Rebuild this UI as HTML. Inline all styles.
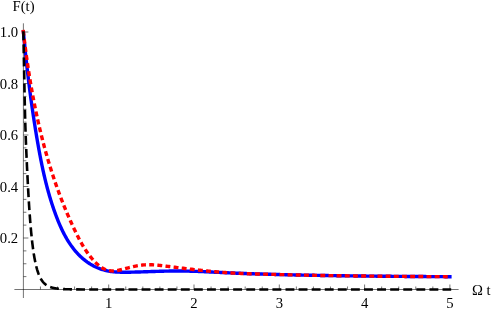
<!DOCTYPE html>
<html><head><meta charset="utf-8"><title>plot</title>
<style>
html,body{margin:0;padding:0;background:#fff;}
body{width:491px;height:311px;overflow:hidden;}
svg{display:block;will-change:transform;}
text{font-family:"Liberation Serif",serif;font-size:14.7px;fill:#000;}
</style></head><body>
<svg width="491" height="311" viewBox="0 0 491 311">
<rect width="491" height="311" fill="#fff"/>
<g stroke="#000" stroke-width="0.55" fill="none">
<path d="M14.4,289.5 H458.6 M23.4,23.3 V298"/>
<path d="M40.46,289.5 V286.5 M57.52,289.5 V286.5 M74.58,289.5 V286.5 M91.64,289.5 V286.5 M108.70,289.5 V284.5 M125.76,289.5 V286.5 M142.82,289.5 V286.5 M159.88,289.5 V286.5 M176.94,289.5 V286.5 M194.00,289.5 V284.5 M211.06,289.5 V286.5 M228.12,289.5 V286.5 M245.18,289.5 V286.5 M262.24,289.5 V286.5 M279.30,289.5 V284.5 M296.36,289.5 V286.5 M313.42,289.5 V286.5 M330.48,289.5 V286.5 M347.54,289.5 V286.5 M364.60,289.5 V284.5 M381.66,289.5 V286.5 M398.72,289.5 V286.5 M415.78,289.5 V286.5 M432.84,289.5 V286.5 M449.90,289.5 V284.5 M23.4,276.62 H26.4 M23.4,263.75 H26.4 M23.4,250.88 H26.4 M23.4,238.00 H28.4 M23.4,225.12 H26.4 M23.4,212.25 H26.4 M23.4,199.38 H26.4 M23.4,186.50 H28.4 M23.4,173.62 H26.4 M23.4,160.75 H26.4 M23.4,147.88 H26.4 M23.4,135.00 H28.4 M23.4,122.12 H26.4 M23.4,109.25 H26.4 M23.4,96.38 H26.4 M23.4,83.50 H28.4 M23.4,70.62 H26.4 M23.4,57.75 H26.4 M23.4,44.88 H26.4 M23.4,32.00 H28.4"/>
</g>
<path id="blue" d="M23.40,32.00 L23.51,33.21 L23.62,34.42 L23.74,35.63 L23.85,36.84 L23.96,38.05 L24.08,39.26 L24.20,40.47 L24.31,41.68 L24.43,42.89 L24.55,44.10 L24.67,45.31 L24.79,46.52 L24.91,47.73 L25.03,48.95 L25.16,50.16 L25.28,51.37 L25.41,52.58 L25.53,53.80 L25.66,55.01 L25.79,56.22 L25.92,57.43 L26.05,58.65 L26.18,59.86 L26.31,61.08 L26.44,62.29 L26.58,63.50 L26.71,64.72 L26.85,65.93 L26.98,67.15 L27.12,68.36 L27.26,69.57 L27.40,70.79 L27.54,72.00 L27.68,73.22 L27.83,74.43 L27.97,75.65 L28.11,76.86 L28.26,78.07 L28.41,79.29 L28.55,80.50 L28.70,81.72 L28.85,82.93 L29.00,84.14 L29.16,85.36 L29.31,86.57 L29.46,87.79 L29.62,89.00 L29.78,90.21 L29.93,91.43 L30.09,92.64 L30.25,93.85 L30.41,95.07 L30.57,96.28 L30.74,97.49 L30.90,98.70 L31.07,99.92 L31.23,101.13 L31.40,102.34 L31.57,103.55 L31.74,104.76 L31.91,105.98 L32.08,107.19 L32.25,108.40 L32.43,109.61 L32.60,110.82 L32.78,112.03 L32.96,113.24 L33.14,114.45 L33.32,115.66 L33.50,116.86 L33.68,118.07 L33.87,119.28 L34.05,120.49 L34.24,121.69 L34.43,122.90 L34.61,124.11 L34.80,125.31 L35.00,126.52 L35.19,127.72 L35.38,128.93 L35.58,130.13 L35.77,131.34 L35.97,132.54 L36.17,133.74 L36.37,134.95 L36.57,136.15 L36.77,137.35 L36.98,138.55 L37.18,139.75 L37.39,140.95 L37.60,142.15 L37.81,143.35 L38.02,144.55 L38.23,145.75 L38.44,146.94 L38.66,148.14 L38.88,149.34 L39.09,150.53 L39.31,151.73 L39.54,152.92 L39.76,154.11 L39.98,155.31 L40.21,156.50 L40.44,157.69 L40.67,158.88 L40.91,160.07 L41.14,161.26 L41.38,162.45 L41.62,163.64 L41.87,164.83 L42.11,166.02 L42.36,167.21 L42.62,168.39 L42.87,169.58 L43.13,170.76 L43.39,171.95 L43.66,173.13 L43.92,174.31 L44.19,175.50 L44.47,176.68 L44.75,177.86 L45.03,179.04 L45.31,180.22 L45.60,181.40 L45.89,182.57 L46.19,183.75 L46.49,184.93 L46.79,186.10 L47.10,187.28 L47.41,188.45 L47.73,189.63 L48.05,190.80 L48.37,191.97 L48.70,193.14 L49.04,194.32 L49.37,195.49 L49.72,196.65 L50.07,197.82 L50.42,198.99 L50.78,200.16 L51.14,201.32 L51.51,202.49 L51.88,203.65 L52.26,204.82 L52.64,205.98 L53.03,207.14 L53.42,208.31 L53.82,209.47 L54.23,210.63 L54.64,211.78 L55.06,212.94 L55.48,214.10 L55.91,215.26 L56.34,216.41 L56.79,217.57 L57.23,218.72 L57.69,219.87 L58.15,221.02 L58.62,222.16 L59.10,223.30 L59.58,224.44 L60.07,225.57 L60.58,226.70 L61.09,227.82 L61.60,228.94 L62.13,230.06 L62.67,231.16 L63.22,232.27 L63.77,233.36 L64.34,234.45 L64.92,235.53 L65.51,236.60 L66.11,237.67 L66.72,238.73 L67.34,239.77 L67.97,240.81 L68.62,241.84 L69.28,242.86 L69.95,243.87 L70.63,244.87 L71.32,245.86 L72.03,246.84 L72.75,247.80 L73.49,248.76 L74.24,249.70 L75.00,250.63 L75.78,251.54 L76.57,252.44 L77.38,253.33 L78.20,254.21 L79.04,255.07 L79.90,255.91 L80.77,256.74 L81.65,257.56 L82.55,258.36 L83.47,259.14 L84.41,259.90 L85.36,260.65 L86.33,261.38 L87.32,262.10 L88.32,262.79 L89.34,263.46 L90.38,264.12 L91.43,264.75 L92.49,265.35 L93.57,265.94 L94.66,266.50 L95.76,267.03 L96.88,267.53 L98.00,268.01 L99.14,268.45 L100.28,268.87 L101.44,269.27 L102.60,269.63 L103.77,269.97 L104.94,270.28 L106.13,270.56 L107.32,270.82 L108.51,271.06 L109.71,271.26 L110.91,271.45 L112.12,271.61 L113.32,271.75 L114.54,271.87 L115.75,271.97 L116.97,272.06 L118.19,272.12 L119.41,272.17 L120.63,272.21 L121.85,272.24 L123.08,272.25 L124.31,272.26 L125.53,272.26 L126.76,272.25 L127.99,272.23 L129.21,272.21 L130.44,272.19 L131.66,272.16 L132.89,272.13 L134.11,272.10 L135.34,272.07 L136.56,272.04 L137.79,272.00 L139.01,271.97 L140.23,271.93 L141.45,271.89 L142.67,271.85 L143.89,271.81 L145.11,271.77 L146.33,271.73 L147.55,271.69 L148.77,271.65 L149.99,271.61 L151.21,271.57 L152.43,271.53 L153.65,271.49 L154.86,271.45 L156.08,271.41 L157.30,271.37 L158.52,271.33 L159.73,271.30 L160.95,271.26 L162.17,271.23 L163.38,271.20 L164.60,271.17 L165.82,271.14 L167.03,271.11 L168.25,271.09 L169.46,271.07 L170.68,271.05 L171.90,271.04 L173.11,271.02 L174.33,271.01 L175.54,271.01 L176.76,271.00 L177.98,271.00 L179.19,271.00 L180.41,271.01 L181.63,271.02 L182.84,271.03 L184.06,271.05 L185.28,271.07 L186.50,271.10 L187.71,271.12 L188.93,271.15 L190.15,271.18 L191.37,271.22 L192.58,271.25 L193.80,271.29 L195.02,271.33 L196.24,271.37 L197.46,271.42 L198.67,271.47 L199.89,271.51 L201.11,271.56 L202.33,271.61 L203.55,271.67 L204.77,271.72 L205.99,271.78 L207.20,271.83 L208.42,271.89 L209.64,271.95 L210.86,272.00 L212.08,272.06 L213.30,272.12 L214.52,272.18 L215.74,272.24 L216.96,272.30 L218.18,272.36 L219.39,272.41 L220.61,272.47 L221.83,272.53 L223.05,272.59 L224.27,272.64 L225.49,272.70 L226.71,272.76 L227.93,272.81 L229.15,272.86 L230.37,272.92 L231.59,272.97 L232.80,273.02 L234.02,273.07 L235.24,273.13 L236.46,273.18 L237.68,273.23 L238.90,273.27 L240.12,273.32 L241.34,273.37 L242.56,273.42 L243.78,273.47 L245.00,273.51 L246.22,273.56 L247.44,273.60 L248.65,273.64 L249.87,273.69 L251.09,273.73 L252.31,273.77 L253.53,273.81 L254.75,273.85 L255.97,273.89 L257.19,273.93 L258.41,273.96 L259.63,274.00 L260.85,274.04 L262.07,274.07 L263.29,274.11 L264.51,274.14 L265.73,274.17 L266.94,274.21 L268.16,274.25 L269.38,274.28 L270.60,274.32 L271.82,274.35 L273.04,274.38 L274.26,274.42 L275.48,274.45 L276.70,274.48 L277.92,274.52 L279.14,274.55 L280.36,274.58 L281.58,274.61 L282.80,274.64 L284.02,274.67 L285.24,274.70 L286.46,274.73 L287.68,274.76 L288.89,274.79 L290.11,274.82 L291.33,274.85 L292.55,274.87 L293.77,274.90 L294.99,274.93 L296.21,274.96 L297.43,274.98 L298.65,275.01 L299.87,275.04 L301.09,275.06 L302.31,275.09 L303.53,275.11 L304.75,275.14 L305.97,275.16 L307.19,275.19 L308.41,275.21 L309.63,275.23 L310.85,275.26 L312.07,275.28 L313.29,275.30 L314.51,275.32 L315.72,275.35 L316.94,275.37 L318.16,275.39 L319.38,275.41 L320.60,275.43 L321.82,275.45 L323.04,275.48 L324.26,275.50 L325.48,275.52 L326.70,275.54 L327.92,275.56 L329.14,275.58 L330.36,275.59 L331.58,275.61 L332.80,275.63 L334.02,275.65 L335.24,275.67 L336.46,275.69 L337.68,275.71 L338.90,275.72 L340.12,275.74 L341.34,275.76 L342.56,275.78 L343.78,275.79 L345.00,275.81 L346.22,275.83 L347.44,275.84 L348.66,275.86 L349.88,275.87 L351.10,275.89 L352.32,275.91 L353.53,275.92 L354.75,275.94 L355.97,275.95 L357.19,275.97 L358.41,275.98 L359.63,276.00 L360.85,276.01 L362.07,276.02 L363.29,276.04 L364.51,276.05 L365.73,276.07 L366.95,276.08 L368.17,276.09 L369.39,276.11 L370.61,276.12 L371.83,276.13 L373.05,276.14 L374.27,276.16 L375.49,276.17 L376.71,276.18 L377.93,276.19 L379.15,276.20 L380.37,276.22 L381.59,276.23 L382.81,276.24 L384.03,276.25 L385.25,276.26 L386.47,276.27 L387.69,276.28 L388.91,276.30 L390.13,276.31 L391.35,276.32 L392.57,276.33 L393.79,276.34 L395.01,276.35 L396.23,276.36 L397.45,276.37 L398.67,276.38 L399.89,276.39 L401.11,276.40 L402.33,276.41 L403.55,276.42 L404.77,276.43 L405.99,276.44 L407.21,276.44 L408.43,276.45 L409.65,276.46 L410.87,276.47 L412.08,276.48 L413.30,276.49 L414.52,276.50 L415.74,276.50 L416.96,276.51 L418.18,276.52 L419.40,276.53 L420.62,276.54 L421.84,276.55 L423.06,276.55 L424.28,276.56 L425.50,276.57 L426.72,276.58 L427.94,276.58 L429.16,276.59 L430.38,276.60 L431.60,276.61 L432.82,276.61 L434.04,276.62 L435.26,276.63 L436.48,276.63 L437.70,276.64 L438.92,276.65 L440.14,276.65 L441.36,276.66 L442.58,276.67 L443.80,276.67 L445.02,276.68 L446.24,276.68 L447.46,276.69 L448.68,276.70 L449.90,276.70" fill="none" stroke="#0000ff" stroke-width="3.4" stroke-linecap="square" stroke-linejoin="round"/>
<path id="red" d="M23.21,30.31 L23.40,32.00 L23.54,33.20 L23.68,34.40 L23.82,35.59 L23.96,36.79 L24.10,37.99 L24.25,39.19 L24.39,40.38 L24.54,41.58 L24.69,42.78 L24.84,43.98 L24.99,45.17 L25.14,46.37 L25.30,47.57 L25.45,48.77 L25.61,49.96 L25.77,51.16 L25.93,52.36 L26.09,53.55 L26.25,54.75 L26.41,55.95 L26.58,57.14 L26.75,58.34 L26.92,59.54 L27.09,60.73 L27.26,61.93 L27.43,63.12 L27.60,64.32 L27.78,65.52 L27.96,66.71 L28.14,67.91 L28.32,69.10 L28.50,70.29 L28.69,71.49 L28.87,72.68 L29.06,73.88 L29.25,75.07 L29.44,76.26 L29.63,77.46 L29.83,78.65 L30.02,79.84 L30.22,81.03 L30.42,82.23 L30.62,83.42 L30.83,84.61 L31.03,85.80 L31.24,86.99 L31.44,88.18 L31.66,89.37 L31.87,90.56 L32.08,91.75 L32.30,92.94 L32.51,94.13 L32.73,95.32 L32.95,96.50 L33.18,97.69 L33.40,98.88 L33.63,100.07 L33.86,101.25 L34.09,102.44 L34.32,103.62 L34.56,104.81 L34.79,105.99 L35.03,107.18 L35.27,108.36 L35.52,109.54 L35.76,110.73 L36.01,111.91 L36.26,113.09 L36.51,114.27 L36.76,115.45 L37.02,116.63 L37.27,117.81 L37.53,118.99 L37.79,120.17 L38.06,121.35 L38.32,122.53 L38.59,123.70 L38.86,124.88 L39.13,126.06 L39.41,127.23 L39.68,128.41 L39.96,129.58 L40.24,130.76 L40.53,131.93 L40.81,133.10 L41.10,134.27 L41.39,135.44 L41.68,136.61 L41.98,137.78 L42.27,138.95 L42.57,140.12 L42.87,141.29 L43.18,142.46 L43.48,143.62 L43.79,144.79 L44.10,145.96 L44.42,147.12 L44.73,148.28 L45.05,149.45 L45.37,150.61 L45.69,151.77 L46.02,152.93 L46.35,154.09 L46.68,155.25 L47.01,156.41 L47.35,157.57 L47.68,158.73 L48.02,159.88 L48.37,161.04 L48.71,162.19 L49.06,163.35 L49.41,164.50 L49.76,165.65 L50.12,166.80 L50.48,167.95 L50.84,169.10 L51.20,170.25 L51.57,171.40 L51.94,172.55 L52.31,173.70 L52.68,174.84 L53.06,175.99 L53.44,177.13 L53.82,178.27 L54.21,179.41 L54.59,180.56 L54.98,181.70 L55.38,182.83 L55.77,183.97 L56.17,185.11 L56.57,186.25 L56.98,187.38 L57.39,188.52 L57.80,189.65 L58.21,190.78 L58.62,191.91 L59.04,193.05 L59.46,194.17 L59.89,195.30 L60.32,196.43 L60.75,197.56 L61.18,198.68 L61.61,199.81 L62.05,200.93 L62.50,202.05 L62.94,203.17 L63.39,204.29 L63.84,205.41 L64.29,206.53 L64.75,207.65 L65.21,208.76 L65.67,209.88 L66.14,210.99 L66.61,212.11 L67.08,213.22 L67.55,214.33 L68.03,215.44 L68.51,216.54 L69.00,217.65 L69.49,218.76 L69.98,219.86 L70.47,220.96 L70.97,222.07 L71.47,223.17 L71.97,224.27 L72.48,225.37 L72.99,226.46 L73.50,227.56 L74.02,228.65 L74.54,229.75 L75.06,230.84 L75.59,231.93 L76.12,233.02 L76.65,234.11 L77.19,235.19 L77.74,236.27 L78.29,237.35 L78.85,238.43 L79.42,239.50 L79.99,240.56 L80.57,241.63 L81.16,242.69 L81.76,243.74 L82.36,244.79 L82.98,245.83 L83.61,246.87 L84.25,247.90 L84.89,248.92 L85.55,249.94 L86.23,250.95 L86.91,251.95 L87.61,252.95 L88.32,253.94 L89.05,254.91 L89.79,255.89 L90.54,256.85 L91.31,257.80 L92.10,258.74 L92.90,259.67 L93.72,260.59 L94.55,261.48 L95.40,262.36 L96.27,263.21 L97.16,264.03 L98.06,264.82 L98.98,265.58 L99.91,266.30 L100.87,266.98 L101.84,267.61 L102.83,268.20 L103.84,268.74 L104.87,269.23 L105.92,269.67 L106.98,270.04 L108.06,270.35 L109.17,270.60 L110.29,270.78 L111.43,270.89 L112.59,270.93 L113.77,270.90 L114.97,270.82 L116.17,270.68 L117.39,270.50 L118.61,270.28 L119.84,270.02 L121.07,269.74 L122.31,269.43 L123.55,269.11 L124.78,268.78 L126.01,268.45 L127.23,268.11 L128.45,267.79 L129.66,267.47 L130.86,267.17 L132.05,266.88 L133.24,266.60 L134.42,266.34 L135.60,266.09 L136.78,265.86 L137.95,265.65 L139.12,265.46 L140.30,265.29 L141.47,265.14 L142.65,265.01 L143.82,264.91 L145.01,264.83 L146.19,264.78 L147.38,264.74 L148.56,264.73 L149.76,264.74 L150.95,264.76 L152.14,264.81 L153.34,264.87 L154.54,264.94 L155.74,265.03 L156.94,265.13 L158.15,265.24 L159.35,265.36 L160.55,265.49 L161.76,265.62 L162.97,265.76 L164.17,265.91 L165.38,266.06 L166.58,266.21 L167.79,266.36 L168.99,266.51 L170.20,266.67 L171.40,266.82 L172.61,266.97 L173.81,267.12 L175.01,267.27 L176.22,267.42 L177.42,267.57 L178.62,267.72 L179.82,267.87 L181.02,268.02 L182.22,268.17 L183.43,268.31 L184.63,268.46 L185.83,268.60 L187.03,268.75 L188.23,268.89 L189.43,269.03 L190.63,269.17 L191.83,269.31 L193.03,269.45 L194.23,269.59 L195.43,269.72 L196.62,269.86 L197.82,269.99 L199.02,270.12 L200.22,270.25 L201.42,270.38 L202.62,270.51 L203.82,270.63 L205.02,270.76 L206.22,270.88 L207.42,271.00 L208.62,271.12 L209.82,271.23 L211.02,271.35 L212.21,271.46 L213.41,271.57 L214.61,271.68 L215.81,271.78 L217.01,271.89 L218.21,271.99 L219.42,272.09 L220.62,272.18 L221.82,272.28 L223.02,272.37 L224.22,272.46 L225.42,272.55 L226.62,272.63 L227.83,272.71 L229.03,272.79 L230.23,272.87 L231.44,272.94 L232.64,273.02 L233.84,273.09 L235.05,273.15 L236.25,273.22 L237.46,273.28 L238.66,273.34 L239.87,273.40 L241.07,273.46 L242.28,273.52 L243.48,273.57 L244.69,273.62 L245.90,273.67 L247.10,273.71 L248.31,273.74 L249.51,273.78 L250.72,273.81 L251.93,273.84 L253.13,273.88 L254.34,273.91 L255.55,273.93 L256.76,273.96 L257.96,273.99 L259.17,274.02 L260.38,274.05 L261.59,274.07 L262.79,274.10 L264.00,274.13 L265.21,274.16 L266.42,274.20 L267.63,274.23 L268.83,274.27 L270.04,274.30 L271.25,274.33 L272.46,274.37 L273.67,274.40 L274.87,274.43 L276.08,274.47 L277.29,274.50 L278.50,274.53 L279.71,274.56 L280.92,274.59 L282.12,274.62 L283.33,274.65 L284.54,274.68 L285.75,274.71 L286.96,274.74 L288.16,274.77 L289.37,274.80 L290.58,274.83 L291.79,274.86 L292.99,274.88 L294.20,274.91 L295.41,274.94 L296.62,274.97 L297.82,274.99 L299.03,275.02 L300.24,275.04 L301.44,275.07 L302.65,275.09 L303.86,275.12 L305.06,275.14 L306.27,275.17 L307.48,275.19 L308.68,275.21 L309.89,275.24 L311.10,275.26 L312.30,275.28 L313.51,275.31 L314.72,275.33 L315.92,275.35 L317.13,275.37 L318.34,275.39 L319.54,275.42 L320.75,275.44 L321.96,275.46 L323.16,275.48 L324.37,275.50 L325.58,275.52 L326.78,275.54 L327.99,275.56 L329.19,275.58 L330.40,275.60 L331.61,275.61 L332.81,275.63 L334.02,275.65 L335.23,275.67 L336.43,275.69 L337.64,275.71 L338.85,275.72 L340.05,275.74 L341.26,275.76 L342.46,275.77 L343.67,275.79 L344.88,275.81 L346.08,275.82 L347.29,275.84 L348.50,275.86 L349.70,275.87 L350.91,275.89 L352.12,275.90 L353.32,275.92 L354.53,275.93 L355.74,275.95 L356.95,275.96 L358.15,275.98 L359.36,275.99 L360.57,276.01 L361.77,276.02 L362.98,276.03 L364.19,276.05 L365.39,276.06 L366.60,276.07 L367.81,276.09 L369.02,276.10 L370.22,276.11 L371.43,276.13 L372.64,276.14 L373.85,276.15 L375.05,276.16 L376.26,276.18 L377.47,276.19 L378.67,276.20 L379.88,276.21 L381.09,276.22 L382.30,276.24 L383.50,276.25 L384.71,276.26 L385.92,276.27 L387.13,276.28 L388.33,276.29 L389.54,276.30 L390.75,276.31 L391.96,276.32 L393.16,276.33 L394.37,276.34 L395.58,276.35 L396.79,276.36 L397.99,276.37 L399.20,276.38 L400.41,276.39 L401.62,276.40 L402.82,276.41 L404.03,276.42 L405.24,276.43 L406.45,276.44 L407.65,276.45 L408.86,276.46 L410.07,276.47 L411.28,276.47 L412.48,276.48 L413.69,276.49 L414.90,276.50 L416.10,276.51 L417.31,276.52 L418.52,276.52 L419.73,276.53 L420.93,276.54 L422.14,276.55 L423.35,276.55 L424.56,276.56 L425.76,276.57 L426.97,276.58 L428.18,276.58 L429.38,276.59 L430.59,276.60 L431.80,276.61 L433.01,276.61 L434.21,276.62 L435.42,276.63 L436.63,276.63 L437.83,276.64 L439.04,276.65 L440.25,276.65 L441.45,276.66 L442.66,276.67 L443.87,276.67 L445.07,276.68 L446.28,276.68 L447.49,276.69 L448.69,276.70 L449.90,276.70 L450.70,276.70" fill="none" stroke="#ff0000" stroke-width="3.4" stroke-dasharray="4.9 3.27" stroke-dashoffset="-0.5" stroke-linejoin="round"/>
<path d="M23.1,29.9 L23.3,31.4" fill="none" stroke="#ff0000" stroke-width="3.4"/>
<path id="black" d="M23.37,30.70 L23.40,32.00 L23.52,38.64 L23.64,45.11 L23.76,51.39 L23.88,57.50 L24.00,63.44 L24.11,69.23 L24.21,74.85 L24.31,80.32 L24.41,85.64 L24.51,90.82 L24.61,95.86 L24.71,100.76 L24.82,105.53 L24.93,110.17 L25.04,114.68 L25.16,119.07 L25.28,123.35 L25.41,127.51 L25.54,131.56 L25.68,135.50 L25.82,139.34 L25.97,143.08 L26.11,146.71 L26.26,150.25 L26.41,153.70 L26.55,157.05 L26.70,160.32 L26.85,163.50 L26.99,166.60 L27.14,169.61 L27.28,172.55 L27.42,175.41 L27.56,178.19 L27.70,180.91 L27.83,183.55 L27.97,186.12 L28.11,188.63 L28.24,191.07 L28.37,193.45 L28.51,195.77 L28.64,198.02 L28.77,200.22 L28.90,202.37 L29.03,204.46 L29.16,206.49 L29.29,208.47 L29.42,210.41 L29.55,212.29 L29.68,214.13 L29.81,215.91 L29.94,217.66 L30.07,219.36 L30.20,221.01 L30.32,222.63 L30.45,224.20 L30.58,225.74 L30.71,227.23 L30.84,228.69 L30.97,230.12 L31.10,231.50 L31.22,232.85 L31.35,234.17 L31.48,235.46 L31.61,236.71 L31.74,237.94 L31.87,239.13 L31.99,240.29 L32.12,241.43 L32.25,242.53 L32.38,243.61 L32.51,244.66 L32.64,245.69 L32.76,246.69 L32.89,247.67 L33.02,248.62 L33.15,249.56 L33.28,250.46 L33.40,251.35 L33.53,252.21 L33.66,253.06 L33.79,253.88 L33.92,254.68 L34.05,255.47 L34.17,256.23 L34.30,256.98 L34.43,257.71 L34.56,258.42 L34.69,259.11 L34.82,259.79 L34.94,260.45 L35.07,261.10 L35.20,261.73 L35.33,262.35 L35.46,262.95 L35.59,263.53 L35.71,264.11 L35.84,264.67 L35.97,265.21 L36.10,265.75 L36.23,266.27 L36.36,266.78 L36.48,267.27 L36.61,267.76 L36.74,268.23 L36.87,268.70 L37.00,269.15 L37.12,269.59 L37.25,270.02 L37.38,270.44 L37.51,270.86 L37.64,271.26 L37.77,271.65 L37.89,272.04 L38.02,272.41 L38.15,272.78 L38.28,273.14 L38.41,273.49 L38.54,273.83 L38.66,274.16 L38.79,274.49 L38.92,274.81 L39.05,275.12 L39.18,275.42 L39.31,275.72 L39.43,276.01 L39.56,276.30 L39.69,276.58 L39.82,276.85 L39.95,277.11 L40.08,277.37 L40.20,277.63 L40.33,277.88 L40.46,278.12 L40.59,278.36 L40.72,278.59 L40.84,278.82 L40.97,279.04 L41.10,279.26 L41.23,279.47 L41.36,279.67 L41.49,279.88 L41.61,280.08 L41.74,280.27 L41.87,280.46 L42.00,280.65 L42.13,280.83 L42.26,281.01 L42.38,281.18 L42.51,281.35 L42.64,281.52 L42.77,281.68 L42.90,281.84 L43.03,281.99 L43.15,282.14 L43.28,282.29 L43.41,282.44 L43.54,282.58 L43.67,282.72 L43.80,282.86 L43.92,282.99 L44.05,283.12 L44.18,283.25 L44.31,283.38 L44.44,283.50 L44.56,283.62 L44.69,283.74 L44.82,283.85 L44.95,283.96 L45.08,284.07 L45.21,284.18 L45.33,284.29 L45.46,284.39 L45.59,284.49 L45.72,284.59 L45.85,284.69 L45.98,284.78 L46.10,284.87 L46.23,284.96 L46.36,285.05 L46.49,285.14 L46.62,285.22 L46.75,285.31 L46.87,285.39 L47.00,285.47 L47.13,285.55 L47.26,285.62 L47.39,285.70 L47.51,285.77 L47.64,285.85 L47.77,285.92 L47.90,285.99 L48.03,286.05 L48.16,286.12 L48.28,286.18 L48.41,286.25 L48.54,286.31 L48.67,286.37 L48.80,286.43 L48.93,286.49 L49.05,286.55 L49.18,286.60 L49.31,286.66 L49.44,286.71 L49.57,286.76 L49.70,286.82 L49.82,286.87 L49.95,286.92 L50.08,286.97 L50.21,287.01 L50.34,287.06 L50.47,287.11 L50.59,287.15 L50.72,287.20 L50.85,287.24 L50.98,287.28 L51.11,287.32 L51.23,287.36 L51.36,287.40 L51.49,287.44 L51.62,287.48 L51.75,287.52 L51.88,287.55 L52.00,287.59 L52.13,287.62 L52.26,287.66 L52.39,287.69 L52.52,287.73 L52.65,287.76 L52.77,287.79 L52.90,287.82 L53.03,287.85 L53.16,287.88 L53.29,287.91 L53.42,287.94 L53.54,287.97 L53.67,288.00 L53.80,288.03 L53.93,288.05 L54.06,288.08 L54.18,288.10 L54.31,288.13 L54.44,288.15 L54.57,288.18 L54.70,288.20 L54.83,288.23 L54.95,288.25 L55.08,288.27 L55.21,288.29 L55.34,288.31 L55.47,288.34 L55.60,288.36 L55.72,288.38 L55.85,288.40 L55.98,288.42 L56.11,288.44 L56.24,288.45 L56.37,288.47 L56.49,288.49 L56.62,288.51 L56.75,288.53 L56.88,288.54 L57.01,288.56 L57.14,288.58 L57.26,288.59 L57.39,288.61 L57.52,288.63 L57.65,288.64 L57.78,288.66 L57.90,288.67 L58.03,288.68 L58.16,288.70 L58.29,288.71 L58.42,288.73 L58.55,288.74 L58.67,288.75 L58.80,288.77 L58.93,288.78 L59.06,288.79 L59.19,288.80 L59.32,288.82 L59.44,288.83 L59.57,288.84 L59.70,288.85 L59.83,288.86 L59.96,288.87 L60.09,288.88 L60.21,288.89 L60.34,288.90 L60.47,288.91 L60.60,288.92 L60.73,288.93 L60.86,288.94 L60.98,288.95 L61.11,288.96 L61.24,288.97 L61.37,288.98 L61.50,288.99 L61.62,289.00 L61.75,289.01 L61.88,289.01 L62.01,289.02 L62.14,289.03 L62.27,289.04 L62.39,289.05 L62.52,289.05 L62.65,289.06 L62.78,289.07 L62.91,289.08 L63.04,289.08 L63.16,289.09 L63.29,289.10 L63.42,289.10 L63.55,289.11 L63.68,289.12 L63.81,289.12 L63.93,289.13 L64.06,289.14 L64.19,289.14 L64.32,289.15 L64.45,289.15 L64.57,289.16 L64.70,289.16 L64.83,289.17 L64.96,289.18 L65.09,289.18 L65.22,289.19 L65.34,289.19 L65.47,289.20 L65.60,289.20 L65.73,289.21 L65.86,289.21 L65.99,289.22 L66.11,289.22 L66.24,289.22 L66.37,289.23 L66.50,289.23 L66.63,289.24 L66.76,289.24 L66.88,289.25 L67.01,289.25 L67.14,289.25 L67.27,289.26 L67.40,289.26 L67.53,289.27 L67.65,289.27 L67.78,289.27 L67.91,289.28 L68.04,289.28 L68.17,289.28 L68.29,289.29 L68.42,289.29 L68.55,289.29 L68.68,289.30 L68.81,289.30 L68.94,289.30 L69.06,289.31 L69.19,289.31 L69.32,289.31 L69.45,289.32 L69.58,289.32 L69.71,289.32 L69.83,289.32 L69.96,289.33 L70.09,289.33 L70.22,289.33 L70.35,289.33 L70.48,289.34 L70.60,289.34 L70.73,289.34 L70.86,289.35 L70.99,289.35 L71.12,289.35 L71.24,289.35 L71.37,289.35 L71.50,289.36 L71.63,289.36 L71.76,289.36 L71.89,289.36 L72.01,289.37 L72.14,289.37 L72.27,289.37 L72.40,289.37 L72.53,289.37 L72.66,289.38 L72.78,289.38 L72.91,289.38 L73.04,289.38 L73.17,289.38 L73.30,289.38 L73.43,289.39 L73.55,289.39 L73.68,289.39 L73.81,289.39 L73.94,289.39 L74.07,289.39 L74.20,289.40 L74.32,289.40 L74.45,289.40 L74.58,289.40 L75.43,289.41 L83.10,289.46 L90.77,289.48 L98.44,289.49 L106.11,289.50 L113.78,289.50 L121.45,289.50 L129.11,289.50 L136.78,289.50 L144.45,289.50 L152.12,289.50 L159.79,289.50 L167.46,289.50 L175.13,289.50 L182.79,289.50 L190.46,289.50 L198.13,289.50 L205.80,289.50 L213.47,289.50 L221.14,289.50 L228.81,289.50 L236.48,289.50 L244.14,289.50 L251.81,289.50 L259.48,289.50 L267.15,289.50 L274.82,289.50 L282.49,289.50 L290.16,289.50 L297.83,289.50 L305.49,289.50 L313.16,289.50 L320.83,289.50 L328.50,289.50 L336.17,289.50 L343.84,289.50 L351.51,289.50 L359.18,289.50 L366.84,289.50 L374.51,289.50 L382.18,289.50 L389.85,289.50 L397.52,289.50 L405.19,289.50 L412.86,289.50 L420.53,289.50 L428.19,289.50 L435.86,289.50 L443.53,289.50 L451.20,289.50" fill="none" stroke="#000" stroke-width="2.6" stroke-dasharray="8.9 4.185" stroke-dashoffset="-0.6" stroke-linejoin="round"/>
<text x="108.70" y="308.1" text-anchor="middle">1</text>
<text x="194.00" y="308.1" text-anchor="middle">2</text>
<text x="279.30" y="308.1" text-anchor="middle">3</text>
<text x="364.60" y="308.1" text-anchor="middle">4</text>
<text x="449.90" y="308.1" text-anchor="middle">5</text>
<text x="18.2" y="243.15" text-anchor="end">0.2</text>
<text x="18.2" y="191.65" text-anchor="end">0.4</text>
<text x="18.2" y="140.15" text-anchor="end">0.6</text>
<text x="18.2" y="88.65" text-anchor="end">0.8</text>
<text x="18.2" y="37.15" text-anchor="end">1.0</text>
<text x="12.5" y="10.7">F(t)</text>
<text x="472" y="294.7">Ω t</text>
</svg>
</body></html>
